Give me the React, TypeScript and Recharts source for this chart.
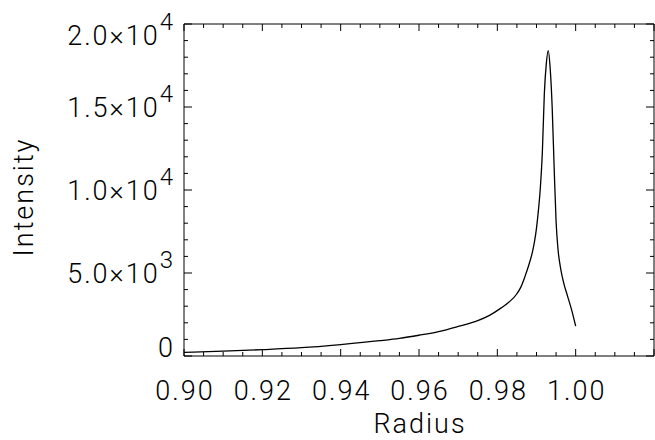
import { LineChart, Line, XAxis, YAxis } from 'recharts';

// values
const radius = [
    0.900, 0.910, 0.920, 0.930, 0.940, 0.950, 0.955, 0.960, 0.965, 0.970,
    0.975, 0.978, 0.981, 0.983, 0.985, 0.986, 0.987, 0.988, 0.989, 0.9895,
    0.990, 0.9905, 0.991, 0.9915, 0.992, 0.9925, 0.993, 0.9935, 0.994, 0.9945,
    0.995, 0.9955, 0.996, 0.9965, 0.997, 0.998, 0.999, 1.000,
];
const intensity = [
    220, 290, 380, 500, 690, 920, 1060, 1250, 1470, 1780,
    2130, 2450, 2900, 3250, 3750, 4150, 4750, 5450, 6300, 6900,
    7700, 8800, 10200, 12300, 15800, 17600, 18400, 17300, 15000, 11400,
    8100, 6400, 5500, 4850, 4350, 3550, 2750, 1800,
];

const xMajor = [0.90, 0.92, 0.94, 0.96, 0.98, 1.00, 1.02];
const xMinor = [
    0.905, 0.91, 0.915, 0.925, 0.93, 0.935, 0.945, 0.95, 0.955, 0.965, 0.97, 0.975,
    0.985, 0.99, 0.995, 1.005, 1.01, 1.015,
];
const xLabels: Record<string, string> = {
    '0.9': '0.90', '0.92': '0.92', '0.94': '0.94', '0.96': '0.96', '0.98': '0.98', '1': '1.00',
};

const yMajor = [0, 5000, 10000, 15000, 20000];
const yMinor = [1000, 2000, 3000, 4000, 6000, 7000, 8000, 9000, 11000, 12000, 13000, 14000, 16000, 17000, 18000, 19000];
const yLabels: Record<number, { mant: string; exp?: string }> = {
    0: { mant: '0' },
    5000: { mant: '5.0×10', exp: '3' },
    10000: { mant: '1.0×10', exp: '4' },
    15000: { mant: '1.5×10', exp: '4' },
    20000: { mant: '2.0×10', exp: '4' },
};

const data = radius.map((r, i) => ({ r, v: intensity[i] }));
const xTicks = [...xMajor, ...xMinor].sort((a, b) => a - b);
const yTicks = [...yMajor, ...yMinor].sort((a, b) => a - b);

const FONT = "Roboto, 'DejaVu Sans', sans-serif";
const textStyle = { fontSize: 27, fontWeight: 300, fontFamily: FONT, fill: '#000', letterSpacing: 2 };
const isMajor = (list: number[], v: number) => list.some(t => Math.abs(t - v) < 1e-9);

function XTick(props: any) {
    const { x, y, payload, side } = props;
    const v = payload.value;
    const major = isMajor(xMajor, v);
    const len = major ? 7 : 4;
    const dir = side === 'top' ? 1 : -1;
    const label = side === 'bottom' && major ? xLabels[String(+v.toFixed(3))] : undefined;
    return (
        <g>
            <line x1={x} x2={x} y1={y} y2={y + dir * len} stroke="#000" strokeWidth={1} />
            {label && (
                <text x={x + 1} y={y + 44} textAnchor="middle" style={textStyle}>{label}</text>
            )}
        </g>
    );
}

function YTick(props: any) {
    const { x, y, payload, side } = props;
    const v = payload.value;
    const major = isMajor(yMajor, v);
    const len = major ? 8 : 4;
    const dir = side === 'left' ? 1 : -1;
    const lab = side === 'left' && major ? yLabels[v] : undefined;
    // top label hangs below its tick, bottom one sits on it, others centred
    const base = v === 20000 ? y + 21 : v === 0 ? y + 1 : y + 10;
    return (
        <g>
            <line x1={x} x2={x + dir * len} y1={y} y2={y} stroke="#000" strokeWidth={1} />
            {lab && (
                <text x={x - 9} y={base} textAnchor="end" style={textStyle}>
                    {lab.mant}
                    {lab.exp && <tspan dy={-15} style={{ fontSize: 24 }}>{lab.exp}</tspan>}
                </text>
            )}
        </g>
    );
}

export default function App() {
    return (
        <div style={{ position: 'absolute', left: 0, top: 0, background: '#fff' }}>
            <LineChart width={655} height={440} data={data}
                margin={{ top: 0, right: 0, bottom: 0, left: 0 }}>
                <XAxis xAxisId="b" dataKey="r" type="number" domain={[0.9, 1.02]} allowDataOverflow
                    ticks={xTicks} interval={0} tickSize={0} tickMargin={0} height={84}
                    axisLine={{ stroke: '#000' }} tickLine={false}
                    tick={(p: any) => <XTick {...p} side="bottom" />}
                    label={(p: any) => {
                        const vb = p.viewBox;
                        return (
                            <text x={vb.x + vb.width / 2 + 1} y={433} textAnchor="middle" style={textStyle}>Radius</text>
                        );
                    }} />
                <XAxis xAxisId="t" orientation="top" dataKey="r" type="number" domain={[0.9, 1.02]} allowDataOverflow
                    ticks={xTicks} interval={0} tickSize={0} tickMargin={0} height={24}
                    axisLine={{ stroke: '#000' }} tickLine={false}
                    tick={(p: any) => <XTick {...p} side="top" />} />
                <YAxis yAxisId="l" type="number" domain={[0, 20000]} allowDataOverflow
                    ticks={yTicks} interval={0} tickSize={0} tickMargin={0} width={184}
                    axisLine={{ stroke: '#000' }} tickLine={false}
                    tick={(p: any) => <YTick {...p} side="left" />}
                    label={(p: any) => {
                        const vb = p.viewBox;
                        const cy = vb.y + vb.height / 2 + 7;
                        return (
                            <text x={33} y={cy} transform={`rotate(-90, 33, ${cy})`} textAnchor="middle"
                                style={textStyle}>Intensity</text>
                        );
                    }} />
                <YAxis yAxisId="r" orientation="right" type="number" domain={[0, 20000]} allowDataOverflow
                    ticks={yTicks} interval={0} tickSize={0} tickMargin={0} width={1}
                    axisLine={{ stroke: '#000' }} tickLine={false}
                    tick={(p: any) => <YTick {...p} side="right" />} />
                <Line xAxisId="b" yAxisId="l" dataKey="v" type="monotone" stroke="#000" strokeWidth={1.3}
                    dot={false} activeDot={false} isAnimationActive={false} />
                <Line xAxisId="t" yAxisId="r" dataKey="v" stroke="none" legendType="none"
                    dot={false} activeDot={false} isAnimationActive={false} />
            </LineChart>
        </div>
    );
}
